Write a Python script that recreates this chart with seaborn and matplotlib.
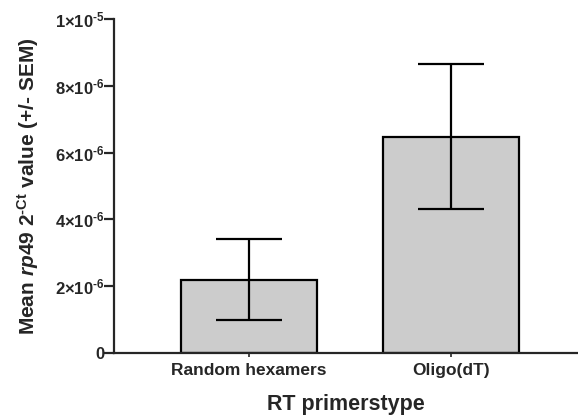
import matplotlib
matplotlib.use("Agg")
import matplotlib.pyplot as plt
import seaborn as sns
import pandas as pd

categories = ["Random hexamers", "Oligo(dT)"]
means = [2.2e-6, 6.48e-6]
sems = [1.22e-6, 2.17e-6]
yticks = [0, 2e-6, 4e-6, 6e-6, 8e-6, 1e-5]
ytick_labels = ["0", r"2×10$^{\text{-}6}$", r"4×10$^{\text{-}6}$", r"6×10$^{\text{-}6}$",
                r"8×10$^{\text{-}6}$", r"1×10$^{\text{-}5}$"]

sns.set_theme(style="ticks")
plt.rcParams["font.family"] = ["Liberation Sans", "DejaVu Sans"]
plt.rcParams["font.weight"] = "bold"
plt.rcParams["mathtext.fontset"] = "custom"
plt.rcParams["mathtext.rm"] = "Liberation Sans:bold"
plt.rcParams["mathtext.it"] = "Liberation Sans:bold:italic"
plt.rcParams["mathtext.bf"] = "Liberation Sans:bold"
plt.rcParams["mathtext.default"] = "rm"

df = pd.DataFrame({"cat": categories, "mean": means, "sem": sems})

fig = plt.figure(figsize=(5.78, 4.18), dpi=100)
ax = fig.add_axes([114/578, (418-353)/418, (577-114)/578, (353-19)/418])

sns.barplot(data=df, x="cat", y="mean", ax=ax, color="#cccccc", width=0.67,
            edgecolor="black", linewidth=1.6, errorbar=None, saturation=1)
ax.errorbar(x=range(len(categories)), y=df["mean"], yerr=df["sem"], fmt="none",
            ecolor="black", elinewidth=1.6, capsize=24, capthick=1.6)

ax.set_xlim(-0.668, 1.624)
ax.set_ylim(0, 1e-5)
ax.set_yticks(yticks)
ax.set_yticklabels(ytick_labels, fontsize=12, fontweight="bold")
ax.set_xticks(range(len(categories)))
ax.set_xticklabels(categories, fontsize=12.5, fontweight="bold")
for s in ["top", "right"]:
    ax.spines[s].set_visible(False)
for s in ["left", "bottom"]:
    ax.spines[s].set_linewidth(1.6)
ax.tick_params(axis="y", length=7, width=1.6, pad=0)
ax.tick_params(axis="x", length=3, width=1.2, pad=4)

ax.set_xlabel("RT primerstype", fontsize=15.5, fontweight="bold", labelpad=12)
ax.set_ylabel(r"Mean $\mathit{rp49}$ 2$^{\text{-}\mathrm{Ct}}$ value (+/- SEM)", fontsize=15, fontweight="bold", labelpad=10)

fig.savefig("out.png", dpi=100)
